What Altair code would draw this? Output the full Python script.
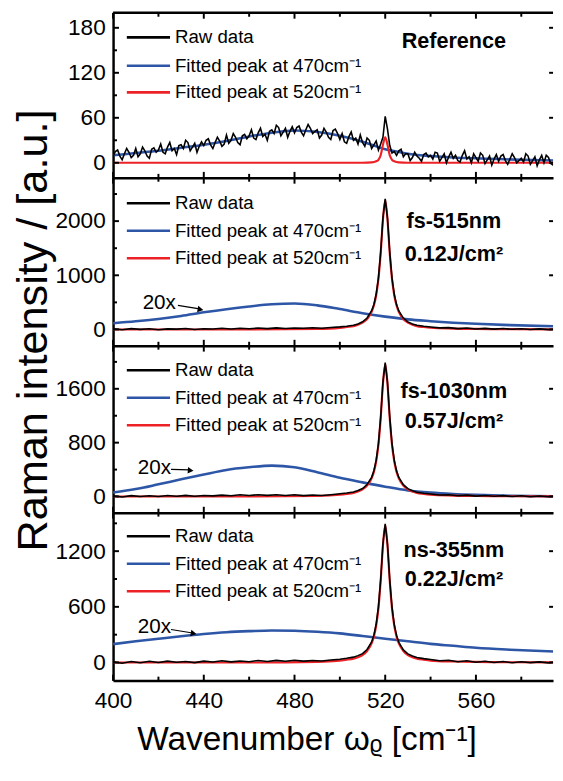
import altair as alt
import pandas as pd

FONT = "Liberation Sans"
BLACK = "#000000"
BLUE = "#2e56a6"
RED = "#ec2227"

# ---------------- data ----------------
x_ticks_major = [400, 440, 480, 520, 560]
x_ticks_minor = [420, 460, 500, 540, 580]

# Panel 1: Reference (raw spectrum, 1 cm-1 steps from 400 to 595)
ref_raw_x = list(range(400, 596))
ref_raw_y = [8, 15, 17, 9, 4, 12, 19, 14, 7, 10,
             19, 8, 12, 21, 16, 9, 6, 18, 20, 14,
             17, 25, 14, 12, 21, 27, 16, 19, 11, 23,
             24, 19, 30, 27, 16, 21, 26, 14, 22, 28,
             23, 30, 32, 24, 19, 27, 34, 29, 22, 25,
             37, 26, 30, 39, 34, 27, 24, 36, 38, 32,
             36, 44, 33, 31, 40, 46, 35, 38, 30, 42,
             44, 39, 50, 47, 36, 41, 46, 34, 42, 48,
             40, 47, 49, 41, 36, 44, 51, 46, 39, 42,
             44, 33, 37, 46, 41, 34, 31, 43, 45, 39,
             31, 39, 28, 26, 35, 41, 30, 33, 25, 37,
             27, 22, 33, 30, 19, 24, 29, 17, 25, 34,
             62, 45, 23, 13, 15, 10, 16, 18, 8, 12,
             12, 3, 7, 14, 9, 6, 2, 11, 13, 8,
             10, 5, 14, 13, 2, 7, 12, 0, 8, 14,
             6, 10, 3, 1, 10, 16, 5, 8, 0, 12,
             7, 2, 13, 10, -1, 4, 9, -3, 5, 11,
             2, 9, 11, 3, -2, 5, 12, 7, 0, 3,
             6, 1, 12, 9, -2, 3, 8, -4, 4, 10,
             0, 10, 7, -1, -3, 5]
ref_470_x = [400, 410, 420, 430, 440, 450, 460, 470, 480, 490, 500, 510, 515, 520, 525, 530,
             540, 550, 560, 570, 580, 595]
ref_470_y = [10, 13, 16, 20, 24, 29, 35, 40, 43, 41, 36, 28, 23, 18, 15, 12, 9, 7, 6, 5, 4, 3]
ref_520_x = [400, 510, 514, 516, 517, 518, 519, 520, 521, 522, 523, 524, 526, 530, 595]
ref_520_y = [0, 0, 0.5, 2, 4, 10, 24, 34, 24, 10, 4, 2, 0.5, 0, 0]

# common sampling grid for the laser-treated spectra
raw_x = [400, 404, 408, 412, 416, 420, 424, 428, 432, 436, 440, 444, 448, 452, 456, 460,
         464, 468, 472, 476, 480, 484, 488, 492, 496, 500, 503, 506, 508, 510, 512, 514,
         515, 516, 517, 518, 519, 520, 521, 522, 523, 524, 525, 526, 528, 530, 532, 534,
         537, 540, 544, 548, 552, 556, 560, 564, 568, 572, 576, 580, 584, 588, 592, 595]
fit520_x = [400, 460, 490, 500, 503, 506, 508, 510, 512, 514, 515, 516, 517, 518, 519, 520,
            521, 522, 523, 524, 525, 526, 528, 530, 532, 534, 537, 540, 550, 560, 575, 595]
fit470_x = [400, 410, 420, 430, 440, 450, 460, 470, 480, 490, 500, 510, 520, 530, 540, 550,
            560, 575, 595]

# Panel 2: fs-515nm
fs515_raw_y = [12, -6, 16, 2, 14, -4, 11, 6, 18, 1, 13, 7, 21, 9, 23, 13, 26, 16, 29, 19, 28,
               21, 31, 24, 36, 48, 60, 78, 102, 142, 212, 345, 462, 650, 950, 1430, 2060, 2410,
               2055, 1425, 945, 648, 460, 342, 210, 140, 100, 76, 58, 47, 30, 34, 16, 26, 10,
               20, 6, 17, 3, 13, 1, 11, -3, 7]
fs515_520_y = [0, 0, 10, 30, 45, 62, 86, 125, 192, 325, 443, 628, 928, 1405, 2030, 2385, 2030,
               1405, 928, 628, 443, 325, 192, 125, 86, 62, 45, 32, 17, 10, 5, 2]
fs515_470_y = [116, 150, 195, 250, 316, 375, 425, 465, 480, 445, 376, 300, 237, 186, 153, 125,
               104, 80, 60]

# Panel 3: fs-1030nm
fs1030_raw_y = [9, -7, 13, -1, 11, 1, 15, 3, 17, 4, 14, 9, 21, 11, 25, 15, 27, 17, 27, 15, 25,
                13, 23, 15, 27, 40, 52, 68, 88, 118, 178, 285, 383, 538, 785, 1180, 1700, 1990,
                1695, 1176, 782, 536, 381, 284, 176, 116, 86, 64, 48, 38, 22, 27, 11, 20, 6, 15,
                3, 13, -1, 10, -4, 8, -3, 5]
fs1030_520_y = [0, 0, 8, 26, 38, 53, 74, 105, 162, 270, 366, 518, 765, 1160, 1675, 1965, 1675,
                1160, 765, 518, 366, 270, 162, 105, 74, 53, 38, 27, 14, 8, 4, 2]
fs1030_470_y = [58, 110, 181, 255, 327, 395, 434, 459, 434, 360, 278, 210, 146, 90, 58, 38, 25,
                12, 5]

# Panel 4: ns-355nm
ns355_raw_y = [7, -7, 11, -3, 13, 1, 15, 3, 11, -1, 15, 5, 19, 7, 17, 9, 21, 11, 23, 13, 25, 15,
               21, 17, 27, 36, 46, 58, 74, 96, 140, 222, 295, 412, 600, 895, 1280, 1495, 1275,
               890, 595, 408, 292, 218, 136, 93, 70, 55, 42, 33, 18, 24, 9, 19, 3, 13, 1, 11,
               -3, 9, -1, 7, -4, 5]
ns355_520_y = [0, 0, 7, 21, 30, 42, 57, 80, 124, 206, 279, 395, 581, 879, 1262, 1478, 1262, 879,
               581, 395, 279, 206, 124, 80, 57, 42, 30, 21, 11, 6, 3, 1]
ns355_470_y = [198, 228, 256, 283, 307, 326, 338, 346, 343, 332, 314, 285, 256, 228, 201, 180,
               159, 138, 118]

legend_labels = ["Raw data", "Fitted peak at 470cm\u207b\u00b9", "Fitted peak at 520cm\u207b\u00b9"]
panel_labels = [["Reference"], ["fs-515nm", "0.12J/cm\u00b2"], ["fs-1030nm", "0.57J/cm\u00b2"],
                ["ns-355nm", "0.22J/cm\u00b2"]]

panels_data = [
    (ref_raw_x, ref_raw_y, ref_470_x, ref_470_y, ref_520_x, ref_520_y),
    (raw_x, fs515_raw_y, fit470_x, fs515_470_y, fit520_x, fs515_520_y),
    (raw_x, fs1030_raw_y, fit470_x, fs1030_470_y, fit520_x, fs1030_520_y),
    (raw_x, ns355_raw_y, fit470_x, ns355_470_y, fit520_x, ns355_520_y),
]
y_domains = [(-20, 200), (-300, 2800), (-240, 2240), (-195, 1615)]
y_major = [[0, 60, 120, 180], [0, 1000, 2000], [0, 800, 1600], [0, 600, 1200]]
y_minor = [[30, 90, 150], [500, 1500, 2500], [400, 1200, 2000], [300, 900, 1500]]

# ---------------- layout / style ----------------
W = 448
HEIGHTS = [168, 171, 170, 171]
X_DOMAIN = [400, 594]
LW = 2.5
label_text_y = [[29], [44, 78], [46, 77], [38, 68]]
legend_rows = [[25, 54, 81], [26, 54, 82], [25, 53, 81], [24, 52, 80]]
note_pos = [None, (47, 128, 66, 92, 130, 134, 10), (42, 125, 59, 82, 126, 127, 4),
            (42, 117, 59, 85, 119, 123, 10)]


def make_panel(i):
    rx, ry, bx, by, redx, redy = panels_data[i]
    H = HEIGHTS[i]
    last = i == 3
    xs = alt.Scale(domain=X_DOMAIN, nice=False, zero=False)
    ys = alt.Scale(domain=list(y_domains[i]), nice=False, zero=False)
    xaxis_kw = dict(values=x_ticks_major, ticks=False, grid=False, domain=True,
                    domainColor=BLACK, domainWidth=LW, labels=last, labelFontSize=23,
                    labelFont=FONT, labelColor=BLACK, labelPadding=9, labelFlush=False,
                    format="d")
    if last:
        xaxis_kw.update(title="Wavenumber \u03c9\u1d68 [cm\u207b\u00b9]", titleFontSize=34,
                        titleFont=FONT, titleFontWeight="normal", titleColor=BLACK,
                        titleX=197, titleY=70, titleAlign="center", titleBaseline="alphabetic")
    else:
        xaxis_kw.update(title=None)
    yaxis_kw = dict(values=y_major[i], ticks=False, grid=False, domain=True, domainColor=BLACK,
                    domainWidth=LW, labelFontSize=23, labelFont=FONT, labelColor=BLACK,
                    labelPadding=8, labelFlush=False, format="d")
    if i == 1:
        yaxis_kw.update(title="Raman intensity / [a.u.]", titleFontSize=44, titleFont=FONT,
                        titleFontWeight="normal", titleColor=BLACK, titleAngle=270,
                        titleX=-103, titleY=155, titleAlign="center", titleBaseline="top")
    else:
        yaxis_kw.update(title=None)
    xaxis = alt.Axis(**xaxis_kw)
    yaxis = alt.Axis(**yaxis_kw)

    def X(f):
        return alt.X(f, type="quantitative", scale=xs, axis=xaxis)

    def Y(f):
        return alt.Y(f, type="quantitative", scale=ys, axis=yaxis)

    blue = alt.Chart(pd.DataFrame({"x": bx, "y": by})).mark_line(
        color=BLUE, strokeWidth=2.6, clip=True, interpolate="monotone").encode(x=X("x"), y=Y("y"))
    red = alt.Chart(pd.DataFrame({"x": redx, "y": redy})).mark_line(
        color=RED, strokeWidth=2.2, clip=True, interpolate="monotone").encode(x=X("x"), y=Y("y"))
    black = alt.Chart(pd.DataFrame({"x": rx, "y": ry})).mark_line(
        color=BLACK, strokeWidth=1.6, clip=True).encode(x=X("x"), y=Y("y"))
    layers = [blue, red, black]

    # inward ticks
    xmaj = pd.DataFrame({"t": x_ticks_major})
    xmin = pd.DataFrame({"t": x_ticks_minor})
    for df, L in ((xmaj, 6), (xmin, 4)):
        layers.append(alt.Chart(df).mark_rule(color=BLACK, strokeWidth=2).encode(
            x=X("t"), y=alt.value(H), y2=alt.value(H - L)))
        layers.append(alt.Chart(df).mark_rule(color=BLACK, strokeWidth=2).encode(
            x=X("t"), y=alt.value(0), y2=alt.value(L)))
    ymaj = pd.DataFrame({"t": y_major[i]})
    ymin = pd.DataFrame({"t": y_minor[i]})
    for df, L in ((ymaj, 6), (ymin, 4)):
        layers.append(alt.Chart(df).mark_rule(color=BLACK, strokeWidth=2).encode(
            y=Y("t"), x=alt.value(0), x2=alt.value(L)))
    layers.append(alt.Chart(ymaj).mark_rule(color=BLACK, strokeWidth=2).encode(
        y=Y("t"), x=alt.value(W - 4), x2=alt.value(W)))

    if i == 0:
        layers.append(alt.Chart(pd.DataFrame({"a": [0]})).mark_rule(
            color=BLACK, strokeWidth=LW).encode(x=alt.value(0), x2=alt.value(W), y=alt.value(0)))

    # legend
    for lab, col, ry_ in zip(legend_labels, [BLACK, BLUE, RED], legend_rows[i]):
        d = pd.DataFrame({"t": [lab]})
        layers.append(alt.Chart(d).mark_rule(color=col, strokeWidth=2.6).encode(
            x=alt.value(14), x2=alt.value(58), y=alt.value(ry_)))
        layers.append(alt.Chart(d).mark_text(align="left", baseline="middle", fontSize=19,
                                             font=FONT, color=BLACK).encode(
            x=alt.value(63), y=alt.value(ry_), text="t:N"))

    # sample label
    for txt, ty in zip(panel_labels[i], label_text_y[i]):
        layers.append(alt.Chart(pd.DataFrame({"t": [txt]})).mark_text(
            align="center", baseline="middle", fontSize=22, fontWeight="bold", font=FONT,
            color=BLACK).encode(x=alt.value(347), y=alt.value(ty), text="t:N"))

    # 20x annotation with arrow
    if note_pos[i] is not None:
        tx, ty, ax1, ax2, ay1, ay2, ang = note_pos[i]
        layers.append(alt.Chart(pd.DataFrame({"t": ["20x"]})).mark_text(
            align="center", baseline="middle", fontSize=21, font=FONT, color=BLACK).encode(
            x=alt.value(tx), y=alt.value(ty), text="t:N"))
        layers.append(alt.Chart(pd.DataFrame({"a": [0]})).mark_rule(
            color=BLACK, strokeWidth=1.2).encode(
            x=alt.value(ax1), x2=alt.value(ax2 - 4), y=alt.value(ay1), y2=alt.value(ay2 - 0.5)))
        layers.append(alt.Chart(pd.DataFrame({"a": [0]})).mark_point(
            shape="triangle-right", filled=True, size=45, color=BLACK, opacity=1,
            angle=ang).encode(x=alt.value(ax2 - 3), y=alt.value(ay2)))

    return alt.layer(*layers).properties(width=W, height=H)


chart = alt.vconcat(*[make_panel(i) for i in range(4)], spacing=0, bounds="flush").properties(
    padding={"left": 3, "top": -4, "right": 0, "bottom": -1}
).configure(font=FONT).configure_view(strokeWidth=0, stroke=None)

chart.save("out.html", embed_options={"renderer": "svg", "actions": False})
